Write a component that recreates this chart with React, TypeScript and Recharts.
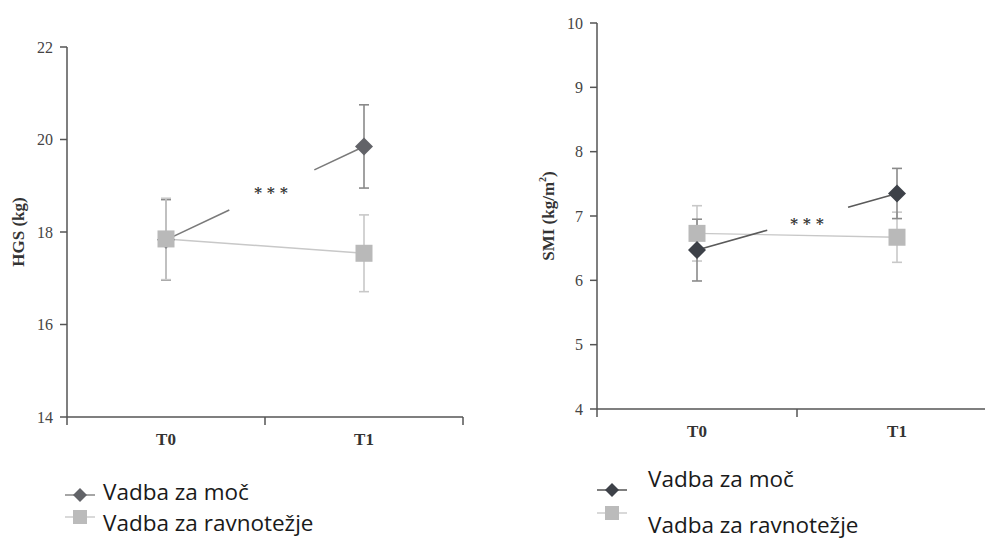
import React from "react"
import { ComposedChart, Line, XAxis, YAxis, ErrorBar } from "recharts"

const categories = ["T0", "T1"]

const hgsStrength = [17.83, 19.85]
const hgsStrengthErr = [0.87, 0.9]
const hgsBalance = [17.85, 17.54]
const hgsBalanceErr = [0.88, 0.83]
const hgsTicks = [14, 16, 18, 20, 22]

const smiStrength = [6.47, 7.35]
const smiStrengthErr = [0.48, 0.39]
const smiBalance = [6.73, 6.67]
const smiBalanceErr = [0.43, 0.39]
const smiTicks = [4, 5, 6, 7, 8, 9, 10]

const legendNames = ["Vadba za moč", "Vadba za ravnotežje"]

const AXIS = "#555"
const SERIF = "'Liberation Serif', 'DejaVu Serif', serif"
const SANS = "'Open Sans', 'Noto Sans', sans-serif"

const buildRows = (s: number[], se: number[], b: number[], be: number[]) =>
  categories.map((c, i) => ({
    x: i + 0.5,
    label: c,
    strength: s[i],
    strengthErr: se[i],
    balance: b[i],
    balanceErr: be[i],
  }))

const Diamond = (fill: string) => (p: any) => (
  <path
    key={`d-${p.index}`}
    d={`M${p.cx},${p.cy - 9} L${p.cx + 9},${p.cy} L${p.cx},${p.cy + 9} L${p.cx - 9},${p.cy} Z`}
    fill={fill}
  />
)

const Square = (fill: string) => (p: any) => (
  <rect key={`s-${p.index}`} x={p.cx - 8.5} y={p.cy - 8.5} width={17} height={17} fill={fill} />
)

const XTick = (p: any) => {
  const v = p.payload.value
  if (Number.isInteger(v)) {
    return <line x1={p.x} x2={p.x} y1={p.y} y2={p.y + 8} stroke={AXIS} strokeWidth={1.5} />
  }
  return (
    <text x={p.x} y={p.y + 28} textAnchor="middle" fontFamily={SERIF} fontWeight="bold" fontSize={17} fill="#333">
      {categories[Math.floor(v)]}
    </text>
  )
}

interface PanelProps {
  left: number
  top: number
  height: number
  marginTop: number
  marginRight: number
  marginBottom: number
  rows: any[]
  domain: [number, number]
  ticks: number[]
  yLabel: React.ReactNode
  strengthColor: string
  strengthLine: string
  strengthDash: string
  strengthOnTop: boolean
}

function Panel(props: PanelProps) {
  const strength = (
    <Line
      key="strength"
      dataKey="strength"
      stroke={props.strengthLine}
      strokeWidth={1.6}
      strokeDasharray={props.strengthDash}
      dot={Diamond(props.strengthColor)}
      activeDot={false}
      isAnimationActive={false}
    >
      <ErrorBar dataKey="strengthErr" width={5} stroke="#8a8a8a" strokeWidth={1.6} direction="y" />
    </Line>
  )
  const balance = (
    <Line
      key="balance"
      dataKey="balance"
      stroke="#c8c8c8"
      strokeWidth={1.4}
      dot={Square("#b9b9b9")}
      activeDot={false}
      isAnimationActive={false}
    >
      <ErrorBar dataKey="balanceErr" width={5} stroke="#c8c8c8" strokeWidth={1.6} direction="y" />
    </Line>
  )
  return (
    <div style={{ position: "absolute", left: props.left, top: props.top }}>
      <ComposedChart
        width={480}
        height={props.height}
        data={props.rows}
        margin={{ top: props.marginTop, right: props.marginRight, bottom: props.marginBottom, left: 0 }}
      >
        <XAxis
          dataKey="x"
          type="number"
          domain={[0, 2]}
          ticks={[0, 0.5, 1, 1.5, 2]}
          tickLine={false}
          tickSize={0}
          tickMargin={0}
          height={30}
          stroke={AXIS}
          strokeWidth={1.5}
          tick={<XTick />}
          interval={0}
        />
        <YAxis
          type="number"
          domain={props.domain}
          ticks={props.ticks}
          width={67}
          tickSize={7}
          tickMargin={7}
          stroke={AXIS}
          strokeWidth={1.5}
          tick={{ fontFamily: SERIF, fontSize: 16, fill: "#444" }}
          interval={0}
          label={(lp: any) => (
            <text
              transform={`translate(${lp.viewBox.x + 18},${lp.viewBox.y + lp.viewBox.height / 2}) rotate(-90)`}
              textAnchor="middle"
              dominantBaseline="central"
              fontFamily={SERIF}
              fontWeight="bold"
              fontSize={17}
              fill="#333"
            >
              {props.yLabel}
            </text>
          )}
        />
        {props.strengthOnTop ? [balance, strength] : [strength, balance]}
      </ComposedChart>
    </div>
  )
}

const Stars = ({ x, y }: { x: number; y: number }) => (
  <div
    style={{
      position: "absolute",
      left: x,
      top: y,
      transform: "translate(-50%, -50%)",
      fontFamily: SERIF,
      fontSize: 15,
      fontWeight: "bold",
      letterSpacing: 2.5,
      color: "#333",
    }}
  >
    ∗∗∗
  </div>
)

const LegendIcon = ({ kind, color, line }: { kind: "d" | "s"; color: string; line: string }) => (
  <svg width={30} height={20} style={{ display: "block" }}>
    <line x1={0} x2={30} y1={10} y2={10} stroke={line} strokeWidth={1.5} />
    {kind === "d" ? (
      <path d="M15,3 L22,10 L15,17 L8,10 Z" fill={color} />
    ) : (
      <rect x={8} y={3} width={14} height={14} fill={color} />
    )}
  </svg>
)

const textStyle: React.CSSProperties = {
  position: "absolute",
  fontFamily: SANS,
  fontSize: 22.5,
  color: "#1a1a1a",
  whiteSpace: "nowrap",
  lineHeight: "28px",
}

export default function App() {
  const hgsRows = buildRows(hgsStrength, hgsStrengthErr, hgsBalance, hgsBalanceErr)
  const smiRows = buildRows(smiStrength, smiStrengthErr, smiBalance, smiBalanceErr)
  return (
    <div style={{ position: "absolute", left: 0, top: 0, width: 985, height: 540, overflow: "hidden", background: "#fff" }}>
      <Panel
        left={0}
        top={0}
        height={460}
        marginTop={47}
        marginRight={17}
        marginBottom={13}
        rows={hgsRows}
        domain={[14, 22]}
        ticks={hgsTicks}
        yLabel="HGS (kg)"
        strengthColor="#626368"
        strengthLine="#7a7a7a"
        strengthDash="70 94 100"
        strengthOnTop={false}
      />
      <Panel
        left={530}
        top={0}
        height={460}
        marginTop={23}
        marginRight={13}
        marginBottom={21}
        rows={smiRows}
        domain={[4, 10]}
        ticks={smiTicks}
        yLabel={
          <>
            SMI (kg/m<tspan dy={-6} fontSize={10}>2</tspan>
            <tspan dy={6}>)</tspan>
          </>
        }
        strengthColor="#3d4148"
        strengthLine="#5a5a5a"
        strengthDash="73 84 100"
        strengthOnTop={true}
      />
      <Stars x={272} y={190} />
      <Stars x={808} y={221} />

      <div style={{ position: "absolute", left: 65, top: 485 }}>
        <LegendIcon kind="d" color="#626368" line="#888" />
      </div>
      <div style={{ ...textStyle, left: 103, top: 478 }}>{legendNames[0]}</div>
      <div style={{ position: "absolute", left: 65, top: 507 }}>
        <LegendIcon kind="s" color="#bbbbbb" line="#cccccc" />
      </div>
      <div style={{ ...textStyle, left: 103, top: 509 }}>{legendNames[1]}</div>

      <div style={{ position: "absolute", left: 597, top: 480 }}>
        <LegendIcon kind="d" color="#3d4148" line="#555" />
      </div>
      <div style={{ ...textStyle, left: 648, top: 465 }}>{legendNames[0]}</div>
      <div style={{ position: "absolute", left: 597, top: 503 }}>
        <LegendIcon kind="s" color="#bbbbbb" line="#cccccc" />
      </div>
      <div style={{ ...textStyle, left: 648, top: 511 }}>{legendNames[1]}</div>
    </div>
  )
}
